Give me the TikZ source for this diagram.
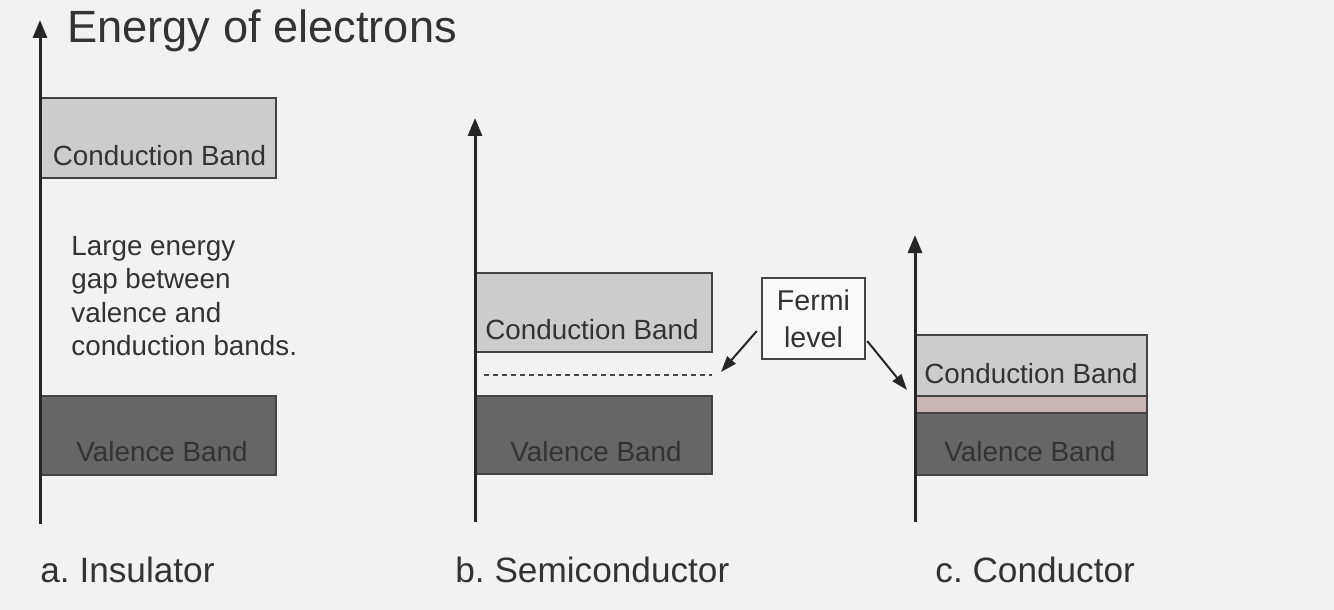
\documentclass[tikz,border=0pt]{standalone}
\usepackage{fontspec}
\setmainfont{Liberation Sans}
\frenchspacing
\usetikzlibrary{arrows.meta,calc}
\definecolor{bg}{HTML}{F2F2F2}
\definecolor{txt}{HTML}{333333}
\definecolor{edge}{HTML}{444444}
\definecolor{cbcol}{HTML}{CCCCCC}
\definecolor{vbcol}{HTML}{666666}
\definecolor{pinkcol}{HTML}{C9B5B5}
\definecolor{boxfill}{HTML}{F9F9F9}
\tikzset{
  cband/.style={draw=edge, line width=1pt, fill=cbcol},
  vband/.style={draw=edge, line width=1pt, fill=vbcol},
  pband/.style={draw=edge, line width=1pt, fill=pinkcol},
  axisline/.style={draw=black!85, line width=1.5pt, -{Triangle[length=9pt,width=7pt]}},
  bandtext/.style={text=txt, inner sep=0pt, anchor=base, font=\fontsize{13.9}{16.65}\selectfont},
  captext/.style={text=txt, inner sep=0pt, anchor=base west, font=\fontsize{17.6}{21}\selectfont},
  fermibox/.style={draw=edge, line width=1.2pt, fill=boxfill, minimum width=51.5pt, minimum height=40.5pt, inner sep=0pt, align=center, text=txt, font=\fontsize{14.3}{18.5}\selectfont},
  pointer/.style={draw=black!85, line width=1pt, -{Triangle[length=8pt,width=5.5pt]}},
  fermidash/.style={draw=edge, line width=0.7pt, dash pattern=on 2.5pt off 2pt}
}
\begin{document}
\begin{tikzpicture}[x=0.5pt,y=-0.5pt]
\useasboundingbox (0,0) rectangle (1334,610);
\fill[bg] (0,0) rectangle (1334,610);

% title
\node[text=txt, inner sep=0pt, anchor=base west, font=\fontsize{22.6}{27}\selectfont] (title) at (67,43) {Energy of electrons};

% ---------- insulator ----------
\draw[cband] (40,98) rectangle (276,178);
\draw[vband] (40,396) rectangle (276,475);
\node[bandtext] (icbt) at (159.5,166) {Conduction Band};
\node[bandtext] (ivbt) at (162,461) {Valence Band};
\node[text=txt, inner sep=0pt, anchor=north west, align=left, font=\fontsize{13.9}{16.65}\selectfont] (gap) at (71,236)
  {Large energy\\gap between\\valence and\\conduction bands.};
\coordinate (ia0) at (40,524);
\coordinate (ia1) at (40,20);
\draw[axisline] (ia0) -- (ia1);
\node[captext] (ilab) at (40,582) {a. Insulator};

% ---------- semiconductor ----------
\draw[cband] (476,273) rectangle (712,352);
\draw[vband] (476,396) rectangle (712,474);
\node[bandtext] (scbt) at (592,339) {Conduction Band};
\node[bandtext] (svbt) at (596,461) {Valence Band};
\coordinate (fd0) at (484,375);
\coordinate (fd1) at (712,375);
\draw[fermidash] (fd0) -- (fd1);
\coordinate (sa0) at (475,522);
\coordinate (sa1) at (475,118);
\draw[axisline] (sa0) -- (sa1);
\node[captext] (slab) at (455,582) {b. Semiconductor};

% ---------- conductor ----------
\draw[cband] (915,335) rectangle (1147,396);
\draw[pband] (915,396) rectangle (1147,413);
\draw[vband] (915,413) rectangle (1147,475);
\node[bandtext] (ccbt) at (1031,383) {Conduction Band};
\node[bandtext] (cvbt) at (1030,461) {Valence Band};
\coordinate (ca0) at (915,522);
\coordinate (ca1) at (915,235);
\draw[axisline] (ca0) -- (ca1);
\node[captext] (clab) at (935,582) {c. Conductor};

% ---------- Fermi level ----------
\node[fermibox] (fermi) at (813.5,318.5) {Fermi\\level};
\coordinate (fs) at (721,372);
\coordinate (fc) at (907,390);
\draw[pointer] ($(fermi.west)+(-4,12.5)$) -- (fs);
\draw[pointer] ($(fermi.east)+(1,22.5)$) -- (fc);
\end{tikzpicture}
\end{document}
